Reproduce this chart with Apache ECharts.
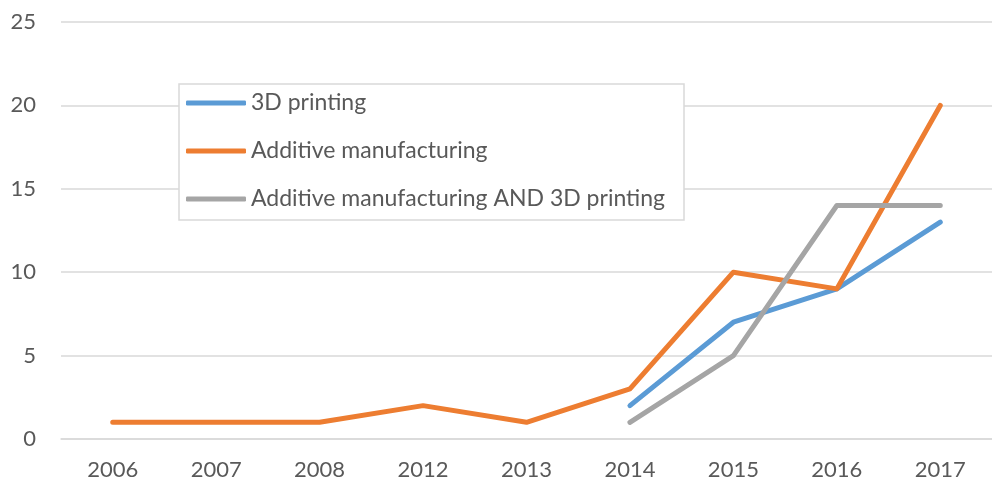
<!DOCTYPE html>
<html><head><meta charset="utf-8">
<script src="https://cdn.jsdelivr.net/npm/echarts@6/dist/echarts.min.js"></script>
<style>html,body{margin:0;padding:0;background:#fff}#c{width:992px;height:483px}</style>
</head><body><div id="c"></div>
<script>
const categories = ['2006','2007','2008','2012','2013','2014','2015','2016','2017'];
const printing3D = [null,null,null,null,null,2,7,9,13];
const additive = [1,1,1,2,1,3,10,9,20];
const additiveAnd3D = [null,null,null,null,null,1,5,14,14];
const yTicks = [0,5,10,15,20,25];

const font = 'Lato';
const chart = echarts.init(document.getElementById('c'));
const mk = (name, data, color) => ({
  name, type:'line', data, showSymbol:false, symbol:'none', connectNulls:false,
  lineStyle:{width:5, color, cap:'round', join:'round'}, itemStyle:{color}
});
chart.setOption({
  animation:false,
  backgroundColor:'#fff',
  textStyle:{fontFamily:font},
  grid:{left:61, top:22, width:941, bottom:44},
  legend:{
    orient:'vertical', left:179, top:84,
    backgroundColor:'#fff', borderColor:'#d9d9d9', borderWidth:1.5,
    padding:[7,11,9,7], itemGap:24, itemWidth:60, itemHeight:5, icon:'roundRect',
    textStyle:{fontFamily:font, fontSize:23, color:'#595959', lineHeight:24, width:422, overflow:'none'}
  },
  xAxis:{
    type:'category', data:categories, boundaryGap:true,
    axisLine:{show:true, lineStyle:{color:'#d9d9d9', width:1.5}},
    axisTick:{show:false},
    axisLabel:{fontFamily:font, fontSize:22, color:'#595959', margin:20}
  },
  yAxis:{
    type:'value', min:yTicks[0], max:yTicks[yTicks.length-1], interval:5,
    axisLine:{show:false}, axisTick:{show:false},
    splitLine:{lineStyle:{color:'#d9d9d9', width:1.5}},
    axisLabel:{fontFamily:font, fontSize:22, color:'#595959', margin:25}
  },
  series:[
    mk('3D printing', printing3D, '#5B9BD5'),
    mk('Additive manufacturing', additive, '#ED7D31'),
    mk('Additive manufacturing AND 3D printing', additiveAnd3D, '#A5A5A5')
  ]
});
</script></body></html>
